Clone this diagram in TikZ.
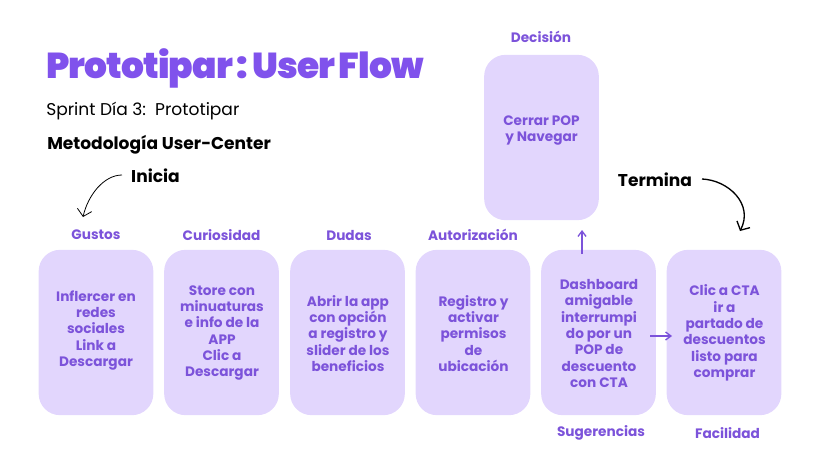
\documentclass[tikz,border=0pt]{standalone}
\usepackage{fontspec}
\setmainfont{Poppins}
\newfontfamily\pesada[LetterSpace=-2.5,WordSpace=0.6]{Poppins Black}
\usetikzlibrary{positioning,arrows.meta}
\definecolor{lila}{HTML}{E2D6FD}
\definecolor{morado}{HTML}{7C53DA}
\definecolor{titulo}{HTML}{8052EC}
\tikzset{
    tarjeta/.style={fill=lila, rounded corners=16pt, minimum width=86pt, minimum height=124pt, inner sep=0pt},
    etiqueta/.style={text=morado, font=\fontsize{10.25}{12.2}\selectfont\bfseries, inner sep=0pt, align=center},
    negra/.style={font=\fontsize{12.8}{14}\selectfont\bfseries, inner sep=0pt},
    flecha/.style={morado, line width=1pt, -{Straight Barb[length=4pt,width=6pt]}},
    trazo/.style={black, -{Straight Barb[length=5pt,width=11pt]}}
}
\begin{document}
\begin{tikzpicture}[x=0.75pt,y=-0.75pt]
    \useasboundingbox (0,0) rectangle (820,461);

    \node[anchor=west, text=titulo, font=\fontsize{27}{30}\selectfont\pesada, inner sep=0pt] (titular) at (46,68) {Prototipar : User Flow};
    \node[anchor=west, font=\fontsize{12.8}{14}\selectfont, inner sep=0pt] (sprint) at (46,111) {Sprint Día 3:\ \ Prototipar};
    \node[anchor=west, font=\fontsize{12.8}{14}\selectfont\bfseries, inner sep=0pt] (metodo) at (47,145) {Metodología User-Center};

    \node[tarjeta] (gustos) at (96,332.5) {};
    \node[tarjeta] (curiosidad) at (221.5,332.5) {};
    \node[tarjeta] (dudas) at (347.5,332.5) {};
    \node[tarjeta] (autorizacion) at (473,332.5) {};
    \node[tarjeta] (sugerencias) at (598.5,332.5) {};
    \node[tarjeta] (facilidad) at (724,332.5) {};
    \node[tarjeta] (decision) at (541.5,137.5) {};

    \node[etiqueta] (tgustos) at (96,330.5) {Inflercer en\\redes\\sociales\\Link a\\Descargar};
    \node[etiqueta] (tcuriosidad) at (222,333) {Store con\\minuaturas\\e info de la\\APP\\Clic a\\Descargar};
    \node[etiqueta] (tdudas) at (348,333.5) {Abrir la app\\con opción\\a registro y\\slider de los\\beneficios};
    \node[etiqueta] (tautorizacion) at (473.5,333.5) {Registro y\\activar\\permisos\\de\\ubicación};
    \node[etiqueta] (tsugerencias) at (599,333.5) {Dashboard\\amigable\\interrumpi\\do por un\\POP de\\descuento\\con CTA};
    \node[etiqueta] (tfacilidad) at (724.5,333) {Clic a CTA\\ir a\\partado de\\descuentos\\listo para\\comprar};
    \node[etiqueta] (tdecision) at (541.5,130.5) {Cerrar POP\\y Navegar};

    \node[etiqueta] at (96,235) (lgustos) {Gustos};
    \node[etiqueta] at (221.5,235) (lcuriosidad) {Curiosidad};
    \node[etiqueta] at (349,235) (ldudas) {Dudas};
    \node[etiqueta] at (473,235) (lautorizacion) {Autorización};
    \node[etiqueta] at (601,433) (lsugerencias) {Sugerencias};
    \node[etiqueta] at (727.5,433) (lfacilidad) {Facilidad};
    \node[etiqueta] at (541,37) (ldecision) {Decisión};

    \node[negra] (inicia) at (155.5,176) {Inicia};
    \node[negra] (termina) at (655,180) {Termina};

    \coordinate (a1) at (122,175);
    \coordinate (a2) at (83,217);
    \coordinate (b1) at (702,179);
    \coordinate (b2) at (740,231);
    \coordinate (c1) at (582,254);
    \coordinate (c2) at (582,230);
    \coordinate (d1) at (650,336);
    \coordinate (d2) at (672,336);

    \draw[trazo, line width=0.6pt] (a1) .. controls (104,175) and (88,195) .. (a2);
    \draw[trazo, line width=1pt] (b1) .. controls (728,180) and (754,204) .. (b2);
    \draw[flecha] (c1) -- (c2);
    \draw[flecha] (d1) -- (d2);
\end{tikzpicture}
\end{document}
